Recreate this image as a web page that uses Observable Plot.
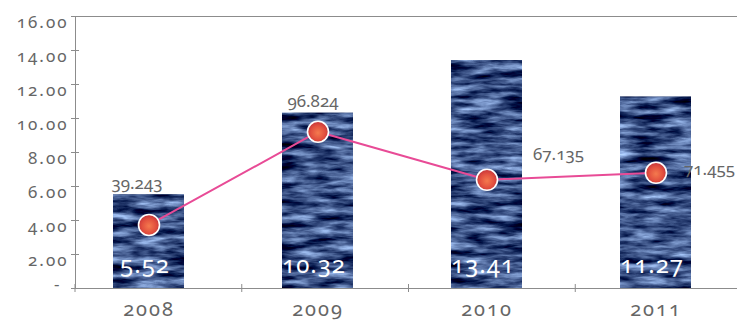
<!DOCTYPE html>
<html>
<head>
<meta charset="utf-8">
<script src="https://cdn.jsdelivr.net/npm/d3@7"></script>
<script src="https://cdn.jsdelivr.net/npm/@observablehq/plot@0.6"></script>
<style>
  html, body { margin: 0; padding: 0; background: #fff; }
  #chart svg { display: block; overflow: visible; }
</style>
</head>
<body>
<div id="chart"></div>
<script>
// Annual figures: bars on the left axis, line on a secondary axis
const years = ["2008", "2009", "2010", "2011"];
const barValues = [5.52, 10.32, 13.41, 11.27];
const lineValues = [39.243, 96.824, 67.135, 71.455];
const yTicks = [0, 2, 4, 6, 8, 10, 12, 14, 16];
const lineAxisMax = 168; // top of the secondary axis, level with 16.00

const rows = years.map((year, i) => ({year, bar: barValues[i], line: lineValues[i]}));

const axisGray = "#8c8c8c";
const textGray = "#666666";
const pink = "#e84b96";

// secondary axis mapped onto the primary one
const lineScale = d3.scaleLinear().domain([0, lineAxisMax]).range([0, 16]);
const lineY = d => lineScale(d.line);

// placement of the line's value labels
const labelNudge = {
  "2008": {dx: -12, dy: -11, anchor: "middle", on: "bar"},
  "2009": {dx: -5, dy: -12, anchor: "middle", on: "bar"},
  "2010": {dx: 46, dy: -25, anchor: "start", on: "line"},
  "2011": {dx: 28, dy: -3, anchor: "start", on: "line"}
};

const plot = Plot.plot({
  width: 737,
  height: 323,
  marginLeft: 75,
  marginTop: 16,
  marginBottom: 35,
  marginRight: -1,
  style: {fontFamily: "'Noto Sans', Lato, sans-serif", fontVariantNumeric: "oldstyle-nums", background: "#fff"},
  x: {domain: years, range: [75, 742], paddingInner: 0.58, paddingOuter: 0.263, align: 0.424, axis: null},
  y: {domain: [0, 16], axis: null},
  marks: [
    Plot.barY(rows, {x: "year", y: "bar", fill: "#34497c"}),
    Plot.frame({stroke: axisGray, strokeWidth: 1}),
    Plot.axisY({ticks: yTicks, tickSize: 8, dx: 4, tickFormat: () => "", label: null, stroke: axisGray}),
    Plot.text(yTicks.filter(d => d > 0), {
      y: d => d, text: d => d.toFixed(2), frameAnchor: "left", textAnchor: "end",
      dx: -7, dy: 6, fontSize: 17, fill: textGray
    }),
    Plot.text(yTicks.filter(d => d === 0), {
      y: d => d, text: () => "-", frameAnchor: "left", textAnchor: "end",
      dx: -16, dy: -4, fontSize: 17, fill: textGray
    }),
    Plot.text(rows, {x: "year", y: 0, text: d => d.bar.toFixed(2), fill: "#fff", fontSize: 24, dx: -4, dy: -23}),
    Plot.lineY(rows, {x: "year", y: lineY, stroke: pink, strokeWidth: 2}),
    Plot.dot(rows, {x: "year", y: lineY, r: 10.5, fill: "url(#dotFill)", stroke: "#fff", strokeWidth: 1.6}),
    ...years.map(year => {
      const n = labelNudge[year];
      return Plot.text(rows.filter(d => d.year === year), {
        x: "year", y: n.on === "bar" ? "bar" : lineY,
        text: d => String(d.line), textAnchor: n.anchor,
        dx: n.dx, dy: n.dy, fontSize: 17, fill: textGray
      });
    }),
    Plot.text(years, {x: d => d, frameAnchor: "bottom", dy: 27, fontSize: 20, fill: textGray})
  ]
});

const svg = d3.select(plot);
const defs = svg.insert("defs", ":first-child");

// woven blue texture for the bars
const f = defs.append("filter").attr("id", "denim")
  .attr("x", 0).attr("y", 0).attr("width", 1).attr("height", 1)
  .attr("filterUnits", "objectBoundingBox")
  .attr("color-interpolation-filters", "sRGB");
f.append("feTurbulence").attr("type", "fractalNoise")
  .attr("baseFrequency", "0.03 0.14").attr("numOctaves", 4).attr("seed", 11).attr("result", "noise");
f.append("feColorMatrix").attr("in", "noise").attr("type", "matrix")
  .attr("values", "1.2 0 0 0 -0.37  1.3 0 0 0 -0.33  1.3 0 0 0 -0.13  0 0 0 0 1")
  .attr("result", "tint");
f.append("feComposite").attr("in", "tint").attr("in2", "SourceGraphic").attr("operator", "in");

// glossy red marker
const g = defs.append("radialGradient").attr("id", "dotFill")
  .attr("cx", "50%").attr("cy", "55%").attr("r", "55%");
g.append("stop").attr("offset", "0%").attr("stop-color", "#f47a4e");
g.append("stop").attr("offset", "60%").attr("stop-color", "#e2503f");
g.append("stop").attr("offset", "100%").attr("stop-color", "#c3333a");

svg.selectAll('g[aria-label="bar"] rect').attr("filter", "url(#denim)");

// letter spacing for the wide-set labels
const textGroups = svg.selectAll('g[aria-label="text"]').nodes();
d3.select(textGroups[0]).attr("letter-spacing", "2px");
d3.select(textGroups[2]).attr("letter-spacing", "1px");
d3.select(textGroups[textGroups.length - 1]).attr("letter-spacing", "2px");

// category tick marks at the band edges of the x axis
const xs = plot.scale("x");
const [r0, r1] = xs.range;
const y0 = plot.scale("y").apply(0);
const tg = svg.append("g").attr("stroke", axisGray);
years.forEach((_, k) => {
  const x = r0 + k * (r1 - r0) / years.length;
  tg.append("line").attr("x1", x).attr("x2", x).attr("y1", y0 - 4).attr("y2", y0 + 4);
});

document.getElementById("chart").append(plot);
</script>
</body>
</html>
